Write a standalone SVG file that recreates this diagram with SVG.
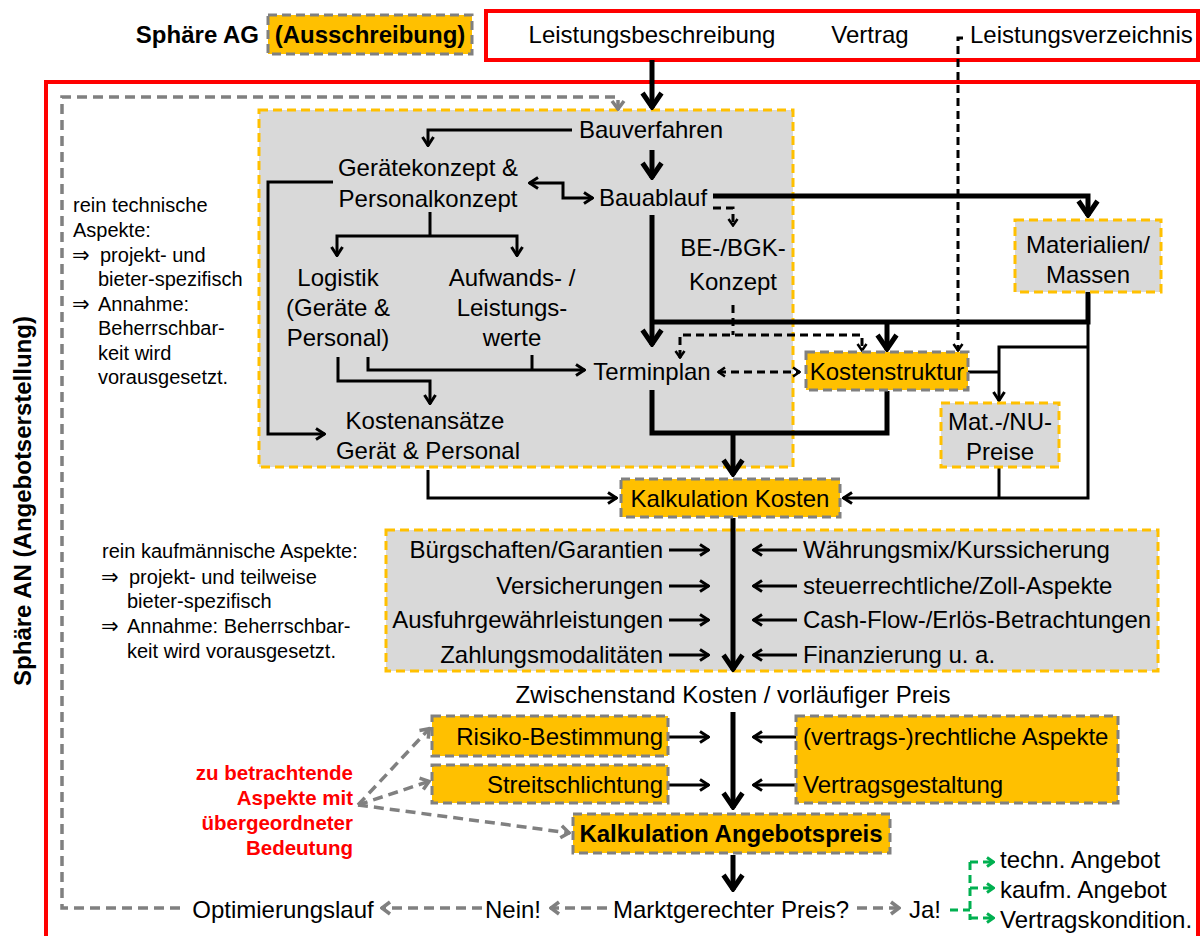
<svg xmlns="http://www.w3.org/2000/svg" width="1202" height="936" viewBox="0 0 1202 936">
  <defs>
    <style>
      text { font-family: "Liberation Sans", Arial, sans-serif; font-size: 24px; fill: #000; }
      .b { font-weight: bold; }
      .m { text-anchor: middle; }
      .e { text-anchor: end; }
      .n { font-size: 20px; }
      .arr { font-family: "DejaVu Sans", sans-serif; font-size: 21px; }
      .red { fill: #FF0000; font-weight: bold; font-size: 20.5px; text-anchor: end; }
      .gbox { fill: #D9D9D9; stroke: #FFC000; stroke-width: 3; stroke-dasharray: 9 5; }
      .obox { fill: #FFC000; stroke: #808080; stroke-width: 3; stroke-dasharray: 9 5; }
      .thin { fill: none; stroke: #000; stroke-width: 3; }
      .thick { fill: none; stroke: #000; stroke-width: 5; }
      .dash { fill: none; stroke: #000; stroke-width: 3; stroke-dasharray: 8 5; }
      .gdash { fill: none; stroke: #808080; stroke-width: 3.5; stroke-dasharray: 10 6; }
      .grn { fill: none; stroke: #00B050; stroke-width: 3; stroke-dasharray: 8 5; }
    </style>
    <marker id="a" viewBox="0 0 12 14" refX="11" refY="7" markerWidth="12" markerHeight="14" markerUnits="userSpaceOnUse" orient="auto-start-reverse">
      <path d="M2,1.5 L10.5,7 L2,12.5" fill="none" stroke="#000" stroke-width="3"/>
    </marker>
    <marker id="A" viewBox="0 0 20 24" refX="18" refY="12" markerWidth="20" markerHeight="24" markerUnits="userSpaceOnUse" orient="auto">
      <path d="M3,2.5 L17,12 L3,21.5" fill="none" stroke="#000" stroke-width="5"/>
    </marker>
    <marker id="d" viewBox="0 0 10 12" refX="9" refY="6" markerWidth="10" markerHeight="12" markerUnits="userSpaceOnUse" orient="auto-start-reverse">
      <path d="M2,1.5 L8.5,6 L2,10.5" fill="none" stroke="#000" stroke-width="2.5"/>
    </marker>
    <marker id="g" viewBox="0 0 12 16" refX="11" refY="8" markerWidth="12" markerHeight="16" markerUnits="userSpaceOnUse" orient="auto">
      <path d="M2,2 L10,8 L2,14" fill="none" stroke="#808080" stroke-width="3.5"/>
    </marker>
    <marker id="v" viewBox="0 0 10 12" refX="9" refY="6" markerWidth="10" markerHeight="12" markerUnits="userSpaceOnUse" orient="auto">
      <path d="M2,1.5 L8.5,6 L2,10.5" fill="none" stroke="#00B050" stroke-width="3"/>
    </marker>
  </defs>

  <rect width="1202" height="936" fill="#fff"/>

  <!-- frames -->
  <g id="frames">
    <rect x="46" y="82" width="1152" height="880" fill="none" stroke="#FF0000" stroke-width="4"/>
    <rect x="486" y="11" width="712" height="49" fill="none" stroke="#FF0000" stroke-width="4"/>
    <rect x="259" y="110" width="534" height="357" class="gbox"/>
    <rect x="386" y="530" width="772" height="141" class="gbox"/>
  </g>

  <!-- header -->
  <g id="header">
    <text x="259" y="43" class="b e">Sphäre AG</text>
    <rect x="268" y="15" width="204" height="39" class="obox"/>
    <text x="370" y="43" class="b m">(Ausschreibung)</text>
    <text x="652" y="43" class="m">Leistungsbeschreibung</text>
    <text x="870" y="43" class="m">Vertrag</text>
    <text x="970" y="43">Leistungsverzeichnis</text>
  </g>

  <text transform="translate(31,501) rotate(-90)" class="b m">Sphäre AN (Angebotserstellung)</text>

  <!-- notes -->
  <g id="note-tech">
    <text x="73" y="212" class="n">rein technische</text>
    <text x="73" y="237" class="n">Aspekte:</text>
    <text x="72" y="262" class="arr">⇒</text>
    <text x="100" y="262" class="n">projekt- und</text>
    <text x="98" y="286" class="n">bieter-spezifisch</text>
    <text x="72" y="311" class="arr">⇒</text>
    <text x="98" y="311" class="n">Annahme:</text>
    <text x="98" y="335" class="n">Beherrschbar-</text>
    <text x="98" y="360" class="n">keit wird</text>
    <text x="98" y="384" class="n">vorausgesetzt.</text>
  </g>
  <g id="note-kfm">
    <text x="102" y="558" class="n">rein kaufmännische Aspekte:</text>
    <text x="101" y="584" class="arr">⇒</text>
    <text x="129" y="584" class="n">projekt- und teilweise</text>
    <text x="127" y="608" class="n">bieter-spezifisch</text>
    <text x="101" y="633" class="arr">⇒</text>
    <text x="127" y="633" class="n">Annahme: Beherrschbar-</text>
    <text x="127" y="658" class="n">keit wird vorausgesetzt.</text>
  </g>
  <g id="note-red">
    <text x="353" y="780" class="red">zu betrachtende</text>
    <text x="353" y="805" class="red">Aspekte mit</text>
    <text x="353" y="830" class="red">übergeordneter</text>
    <text x="353" y="855" class="red">Bedeutung</text>
  </g>

  <!-- connectors -->
  <g id="connectors">
    <path class="gdash" d="M180,908 L62,908 L62,97 L618,97 L618,110" marker-end="url(#g)"/>
    <path class="thick" d="M652,60 L652,108" marker-end="url(#A)"/>
    <path class="thin" d="M572,130 L428,130 L428,146" marker-end="url(#a)"/>
    <path class="thick" d="M652,150 L652,178" marker-end="url(#A)"/>
    <path class="thin" d="M529,183 L563,183 L563,198 L593,198" marker-start="url(#a)" marker-end="url(#a)"/>
    <path class="thin" d="M333,182 L268,182 L268,434 L325,434" marker-end="url(#a)"/>
    <path class="thin" d="M430,212 L430,236"/>
    <path class="thin" d="M337,256 L337,236 L517,236 L517,256" marker-start="url(#a)" marker-end="url(#a)"/>
    <path class="thin" d="M338,357 L338,381 L430,381 L430,404" marker-end="url(#a)"/>
    <path class="thin" d="M368,357 L368,370 L585,370" marker-end="url(#a)"/>
    <path class="thin" d="M532,355 L532,370"/>
    <path class="thick" d="M713,196 L1088,196 L1088,216" marker-end="url(#A)"/>
    <path class="dash" d="M713,208 L733,208 L733,226" marker-end="url(#d)"/>
    <path class="thick" d="M652,215 L652,345" marker-end="url(#A)"/>
    <path class="thick" d="M652,322 L1088,322 L1088,292"/>
    <path class="thick" d="M887,322 L887,350" marker-end="url(#A)"/>
    <path class="dash" d="M733,305 L733,335"/>
    <path class="dash" d="M680,358 L680,335 L862,335 L862,351" marker-start="url(#d)" marker-end="url(#d)"/>
    <path class="dash" d="M718,372 L800,372" marker-start="url(#d)" marker-end="url(#d)"/>
    <path class="dash" d="M963,38 L958,38 L958,351" marker-end="url(#d)"/>
    <path class="thin" d="M1088,322 L1088,498 L843,498" marker-end="url(#a)"/>
    <path class="thin" d="M1088,347 L999,347 L999,401" marker-end="url(#a)"/>
    <path class="thin" d="M968,372 L999,372"/>
    <path class="thin" d="M999,467 L999,498"/>
    <path class="thick" d="M652,390 L652,433 L887,433 L887,391"/>
    <path class="thick" d="M733,433 L733,475" marker-end="url(#A)"/>
    <path class="thin" d="M428,470 L428,498 L617,498" marker-end="url(#a)"/>
    <path class="thick" d="M733,518 L733,670" marker-end="url(#A)"/>
    <path class="thin" d="M669,550 L709,550" marker-end="url(#a)"/>
    <path class="thin" d="M669,586 L709,586" marker-end="url(#a)"/>
    <path class="thin" d="M669,620 L709,620" marker-end="url(#a)"/>
    <path class="thin" d="M669,655 L709,655" marker-end="url(#a)"/>
    <path class="thin" d="M797,550 L753,550" marker-end="url(#a)"/>
    <path class="thin" d="M797,586 L753,586" marker-end="url(#a)"/>
    <path class="thin" d="M797,620 L753,620" marker-end="url(#a)"/>
    <path class="thin" d="M797,655 L753,655" marker-end="url(#a)"/>
    <path class="thick" d="M733,712 L733,808" marker-end="url(#A)"/>
    <path class="thin" d="M669,737 L709,737" marker-end="url(#a)"/>
    <path class="thin" d="M669,785 L709,785" marker-end="url(#a)"/>
    <path class="thin" d="M796,737 L753,737" marker-end="url(#a)"/>
    <path class="thin" d="M796,785 L753,785" marker-end="url(#a)"/>
    <path class="gdash" d="M358,805 L430,728" marker-end="url(#g)"/>
    <path class="gdash" d="M358,805 L430,781" marker-end="url(#g)"/>
    <path class="gdash" d="M358,805 L570,833" marker-end="url(#g)"/>
    <path class="thick" d="M733,855 L733,890" marker-end="url(#A)"/>
    <path class="gdash" d="M607,908 L550,908" marker-end="url(#g)"/>
    <path class="gdash" d="M482,908 L381,908" marker-end="url(#g)"/>
    <path class="gdash" d="M857,908 L900,908" marker-end="url(#g)"/>
    <path class="grn" d="M950,910 L970,910 M970,862 L970,920"/>
    <path class="grn" d="M970,862 L994,862" marker-end="url(#v)"/>
    <path class="grn" d="M970,888 L994,888" marker-end="url(#v)"/>
    <path class="grn" d="M970,918 L994,918" marker-end="url(#v)"/>
  </g>

  <!-- technical nodes -->
  <g id="n-bauverfahren"><text x="651" y="138" class="m">Bauverfahren</text></g>
  <g id="n-geraetekonzept">
    <text x="428" y="176" class="m">Gerätekonzept &amp;</text>
    <text x="428" y="207" class="m">Personalkonzept</text>
  </g>
  <g id="n-bauablauf"><text x="653" y="206" class="m">Bauablauf</text></g>
  <g id="n-logistik">
    <text x="338" y="286" class="m">Logistik</text>
    <text x="338" y="316" class="m">(Geräte &amp;</text>
    <text x="338" y="346" class="m">Personal)</text>
  </g>
  <g id="n-aufwand">
    <text x="512" y="286" class="m">Aufwands- /</text>
    <text x="512" y="316" class="m">Leistungs-</text>
    <text x="512" y="346" class="m">werte</text>
  </g>
  <g id="n-be-bgk">
    <text x="733" y="256" class="m">BE-/BGK-</text>
    <text x="733" y="290" class="m">Konzept</text>
  </g>
  <g id="n-terminplan"><text x="652" y="380" class="m">Terminplan</text></g>
  <g id="n-kostenansaetze">
    <text x="425" y="429" class="m">Kostenansätze</text>
    <text x="428" y="459" class="m">Gerät &amp; Personal</text>
  </g>
  <g id="n-materialien">
    <rect x="1015" y="220" width="146" height="72" class="gbox"/>
    <text x="1088" y="253" class="m">Materialien/</text>
    <text x="1088" y="283" class="m">Massen</text>
  </g>
  <g id="n-kostenstruktur">
    <rect x="806" y="352" width="162" height="38" class="obox"/>
    <text x="887" y="380" class="m">Kostenstruktur</text>
  </g>
  <g id="n-matpreise">
    <rect x="941" y="403" width="118" height="64" class="gbox"/>
    <text x="1000" y="430" class="m">Mat.-/NU-</text>
    <text x="1000" y="460" class="m">Preise</text>
  </g>
  <g id="n-kalk-kosten">
    <rect x="621" y="479" width="219" height="38" class="obox"/>
    <text x="730" y="507" class="m">Kalkulation Kosten</text>
  </g>

  <!-- commercial aspects -->
  <g id="n-kaufm">
    <text x="663" y="558" class="e">Bürgschaften/Garantien</text>
    <text x="663" y="594" class="e">Versicherungen</text>
    <text x="663" y="628" class="e">Ausfuhrgewährleistungen</text>
    <text x="663" y="663" class="e">Zahlungsmodalitäten</text>
    <text x="803" y="558">Währungsmix/Kurssicherung</text>
    <text x="803" y="594">steuerrechtliche/Zoll-Aspekte</text>
    <text x="803" y="628">Cash-Flow-/Erlös-Betrachtungen</text>
    <text x="803" y="663">Finanzierung u. a.</text>
  </g>
  <g id="n-zwischenstand"><text x="733" y="703" class="m">Zwischenstand Kosten / vorläufiger Preis</text></g>
  <g id="n-risiko">
    <rect x="432" y="716" width="236" height="40" class="obox"/>
    <text x="663" y="745" class="e">Risiko-Bestimmung</text>
  </g>
  <g id="n-streit">
    <rect x="432" y="765" width="236" height="38" class="obox"/>
    <text x="663" y="793" class="e">Streitschlichtung</text>
  </g>
  <g id="n-vertrag">
    <rect x="796" y="716" width="322" height="87" class="obox"/>
    <text x="803" y="745">(vertrags-)rechtliche Aspekte</text>
    <text x="803" y="793">Vertragsgestaltung</text>
  </g>
  <g id="n-kalk-angebot">
    <rect x="573" y="814" width="317" height="39" class="obox"/>
    <text x="731" y="842" class="b m">Kalkulation Angebotspreis</text>
  </g>

  <!-- decision row -->
  <g id="n-optimierung"><text x="283" y="918" class="m">Optimierungslauf</text></g>
  <g id="n-nein"><text x="513" y="918" class="m">Nein!</text></g>
  <g id="n-markt"><text x="731" y="918" class="m">Marktgerechter Preis?</text></g>
  <g id="n-ja"><text x="925" y="918" class="m">Ja!</text></g>
  <g id="n-ergebnis">
    <text x="1000" y="868">techn. Angebot</text>
    <text x="1000" y="898">kaufm. Angebot</text>
    <text x="1000" y="928">Vertragskondition.</text>
  </g>
</svg>
